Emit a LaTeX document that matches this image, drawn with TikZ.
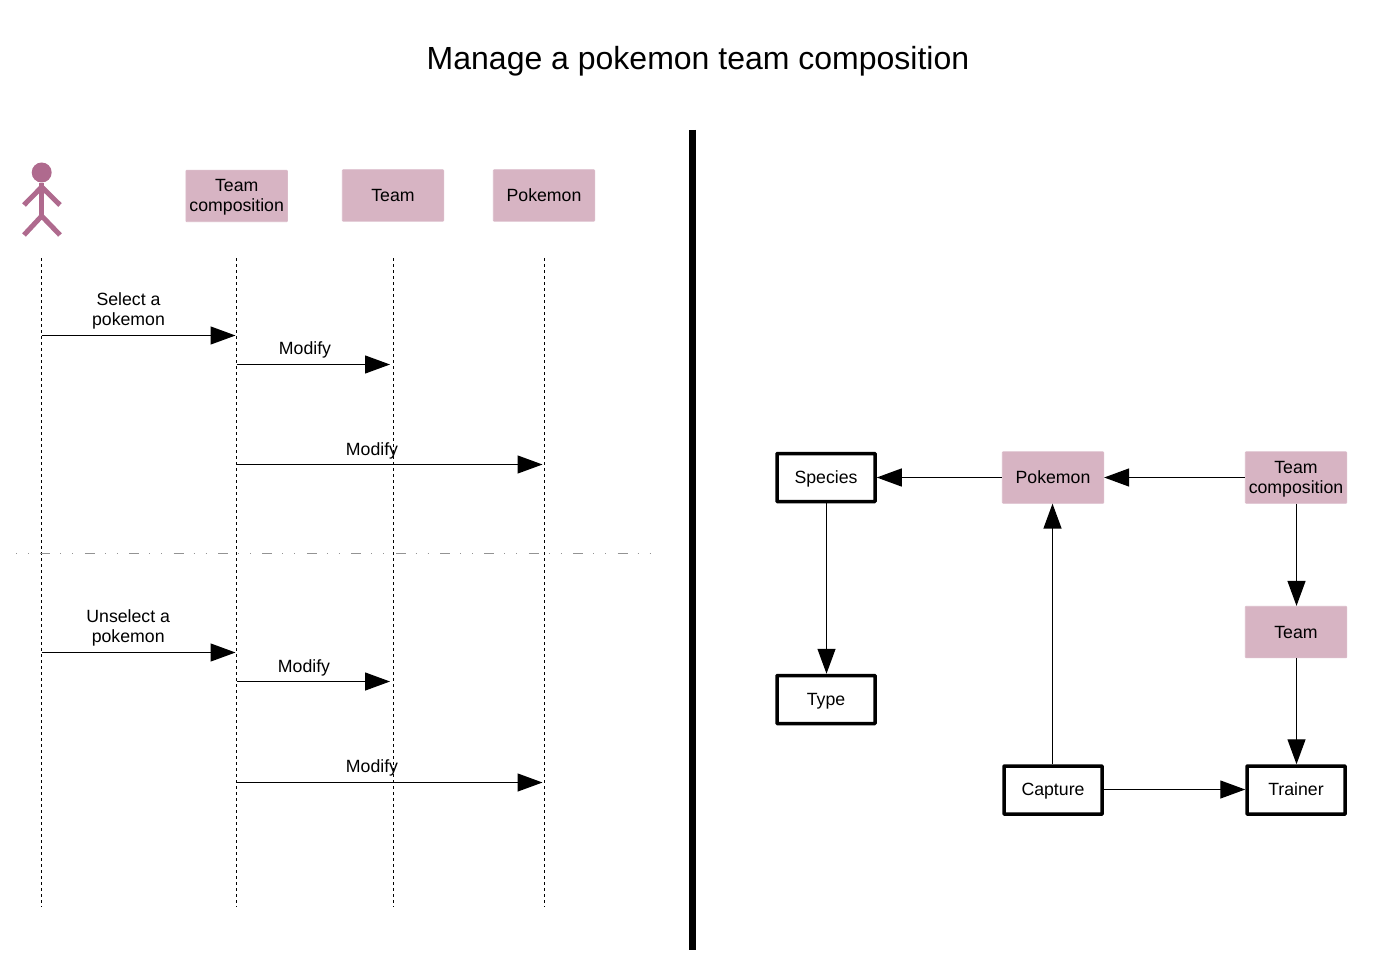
\documentclass[tikz,border=0pt]{standalone}
\usepackage{fontspec}
\setmainfont{Liberation Sans}
\usetikzlibrary{arrows.meta}
\definecolor{pinkbox}{HTML}{D7B4C3}
\definecolor{actor}{HTML}{AF6A8E}
\tikzset{
  x=1pt,y=-1pt,
  lab/.style={font=\fontsize{17.7}{20}\selectfont,align=center,inner sep=0pt,text=black},
  one/.style={text height=17pt,text depth=4pt},
  onelow/.style={text height=15pt,text depth=4pt},
  two/.style={text depth=1pt},
  pinkn/.style={lab,fill=pinkbox,draw=pinkbox!90!white,line width=0.75pt,rounded corners=0.8pt,minimum width=101.5pt,minimum height=51.5pt},
  whiten/.style={lab,onelow,fill=white,draw=black,line width=3.5pt,minimum width=98pt,minimum height=48pt,rounded corners=0.5pt},
  life/.style={black,line width=1.8pt,dash pattern=on 3pt off 3pt},
  msg/.style={black,line width=1.3pt,-{Triangle[length=25pt,width=18pt]},shorten >=1pt},
  limb/.style={actor,line width=5pt},
}
\begin{document}
\begin{tikzpicture}
\useasboundingbox (0,0) rectangle (1396,976);
\node[font=\fontsize{32}{36}\selectfont,inner sep=0pt] (title) at (698,61.5) {Manage a pokemon team composition};
% actor
\node[circle,fill=actor,inner sep=0pt,minimum size=20pt] (head) at (41.7,172.5) {};
\coordinate (hip) at (41.7,216);
\coordinate (armL) at (24,205);\coordinate (armR) at (60,205);\coordinate (neck) at (41.7,187);
\coordinate (footL) at (24,235);\coordinate (footR) at (60,235);
\draw[limb] (head) -- (hip);
\draw[limb] (armL) -- (neck) -- (armR);
\draw[limb] (footL) -- (hip) -- (footR);
% participants
\node[pinkn,two] (tc) at (236.7,196) {Team\\composition};
\node[pinkn,one] (t) at (393,195.5) {Team};
\node[pinkn,one] (p) at (544,195.5) {Pokemon};
% lifelines
\foreach \n/\x in {A/41.5,B/236.5,C/393.5,D/544.5}{
  \coordinate (\n top) at (\x,258);
  \coordinate (\n bot) at (\x,907);
  \draw[life] (\n top) -- (\n bot);
}
% divider
\coordinate (divL) at (16,553.5);
\coordinate (divR) at (653,553.5);
\draw[gray!85,line width=1.4pt,dash pattern=on 1pt off 11pt on 1pt off 11.4pt on 10pt off 10pt] (divL) -- (divR);
% thick separator
\coordinate (sepT) at (692.5,130);
\coordinate (sepB) at (692.5,950);
\draw[black,line width=6.5pt] (sepT) -- (sepB);
% messages
\foreach \id/\y/\ya/\yb in {a/335.5/364.5/464.5,b/652.5/681.5/782.5}{
  \coordinate (A\id) at (41.5,\y);
  \coordinate (B\id) at (236.5,\y);
  \coordinate (Bm\id) at (236.5,\ya);
  \coordinate (Cm\id) at (391,\ya);
  \coordinate (Bn\id) at (236.5,\yb);
  \coordinate (Dn\id) at (543.5,\yb);
  \draw[msg] (A\id) -- (B\id);
  \draw[msg] (Bm\id) -- (Cm\id);
  \draw[msg] (Bn\id) -- (Dn\id);
}
\node[lab] (l1) at (128.5,310.7) {Select a\\pokemon};
\node[lab] (l2) at (305,350) {Modify};
\node[lab] (l3) at (372,451) {Modify};
\node[lab] (l4) at (128.2,627.7) {Unselect a\\pokemon};
\node[lab] (l5) at (304,668) {Modify};
\node[lab] (l6) at (372,768) {Modify};
% right diagram
\node[whiten] (species) at (826,477.5) {Species};
\node[pinkn,onelow] (pk) at (1053,477.5) {Pokemon};
\node[pinkn,two] (tc2) at (1296,477.5) {Team\\composition};
\node[pinkn,one] (tm) at (1296,632) {Team};
\node[whiten] (type) at (826,699.5) {Type};
\node[whiten] (cap) at (1053,790) {Capture};
\node[whiten] (tr) at (1296,790) {Trainer};
\draw[msg,shorten >=0pt] (pk) -- (species);
\draw[msg,shorten >=0pt] (tc2) -- (pk);
\draw[msg,shorten >=0pt] ([xshift=.5pt]species.south) -- ([xshift=.5pt]type.north);
\draw[msg,shorten >=0pt] ([xshift=.5pt]tc2.south) -- ([xshift=.5pt]tm.north);
\draw[msg,shorten >=0pt] ([xshift=.5pt]tm.south) -- ([xshift=.5pt]tr.north);
\draw[msg,shorten >=0pt] ([xshift=-.5pt]cap.north) -- ([xshift=-.5pt]pk.south);
\draw[msg,shorten >=0pt] ([yshift=.5pt]cap.east) -- ([yshift=.5pt]tr.west);
\end{tikzpicture}
\end{document}
